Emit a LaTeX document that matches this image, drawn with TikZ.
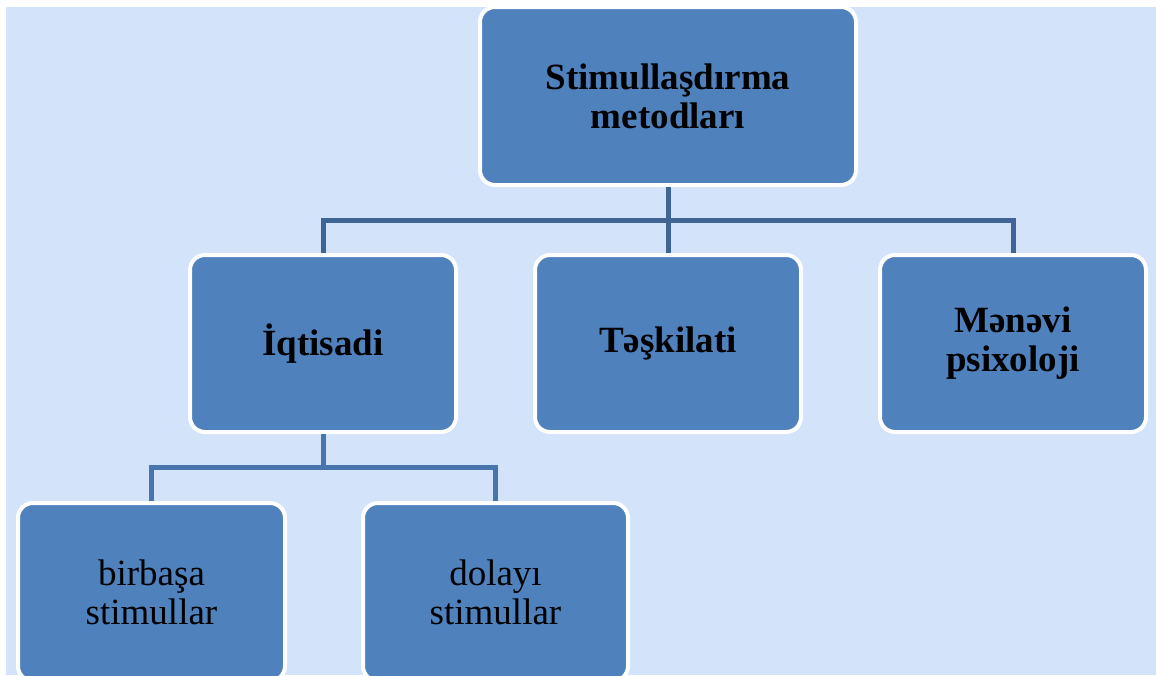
\documentclass[tikz,border=0pt]{standalone}
\usepackage{fontspec}
\setmainfont{Liberation Serif}
\definecolor{bgblue}{HTML}{D3E3F9}
\definecolor{boxblue}{HTML}{4F81BD}
\definecolor{connA}{HTML}{3E6596}
\definecolor{connB}{HTML}{4875AC}
\begin{document}
\begin{tikzpicture}[x=1pt,y=-1pt,
  box/.style={draw=white, line width=4pt, fill=boxblue, rounded corners=15pt,
    align=center, inner sep=0pt, text=black,
    font=\fontsize{37}{39}\selectfont},
  bbox/.style={box, font=\bfseries\fontsize{37}{39}\selectfont},
  conn/.style={line width=5pt, line join=miter, line cap=butt},
]
\useasboundingbox (0,0) rectangle (1156,675);
\fill[bgblue] (6,7) rectangle (1156,675);

\node[bbox, minimum width=376pt, minimum height=178pt] (top) at (668,96) {Stimullaşdırma\\metodları};
\node[bbox, minimum width=266pt, minimum height=177pt] (iq) at (323,343.5) {İqtisadi};
\node[bbox, minimum width=266pt, minimum height=177pt] (tes) at (668,343.5) {Təşkilati};
\node[bbox, minimum width=266pt, minimum height=177pt] (men) at (1013,343.5) {Mənəvi\\psixoloji};
\node[box, minimum width=267pt, minimum height=178pt] (bir) at (151.5,592) {birbaşa\\stimullar};
\node[box, minimum width=265pt, minimum height=178pt] (dol) at (495.5,592) {dolayı\\stimullar};

\coordinate (barA) at (668,220.5);
\coordinate (barB) at (323,467.5);

\draw[conn, connA] (top.south) -- (barA);
\draw[conn, connA] (iq.north) -- (iq.north |- barA) -- (men.north |- barA) -- (men.north);
\draw[conn, connA] (tes.north) -- (tes.north |- barA);

\draw[conn, connB] (iq.south) -- (barB);
\draw[conn, connB] (bir.north) -- (bir.north |- barB) -- (dol.north |- barB) -- (dol.north);
\end{tikzpicture}
\end{document}
